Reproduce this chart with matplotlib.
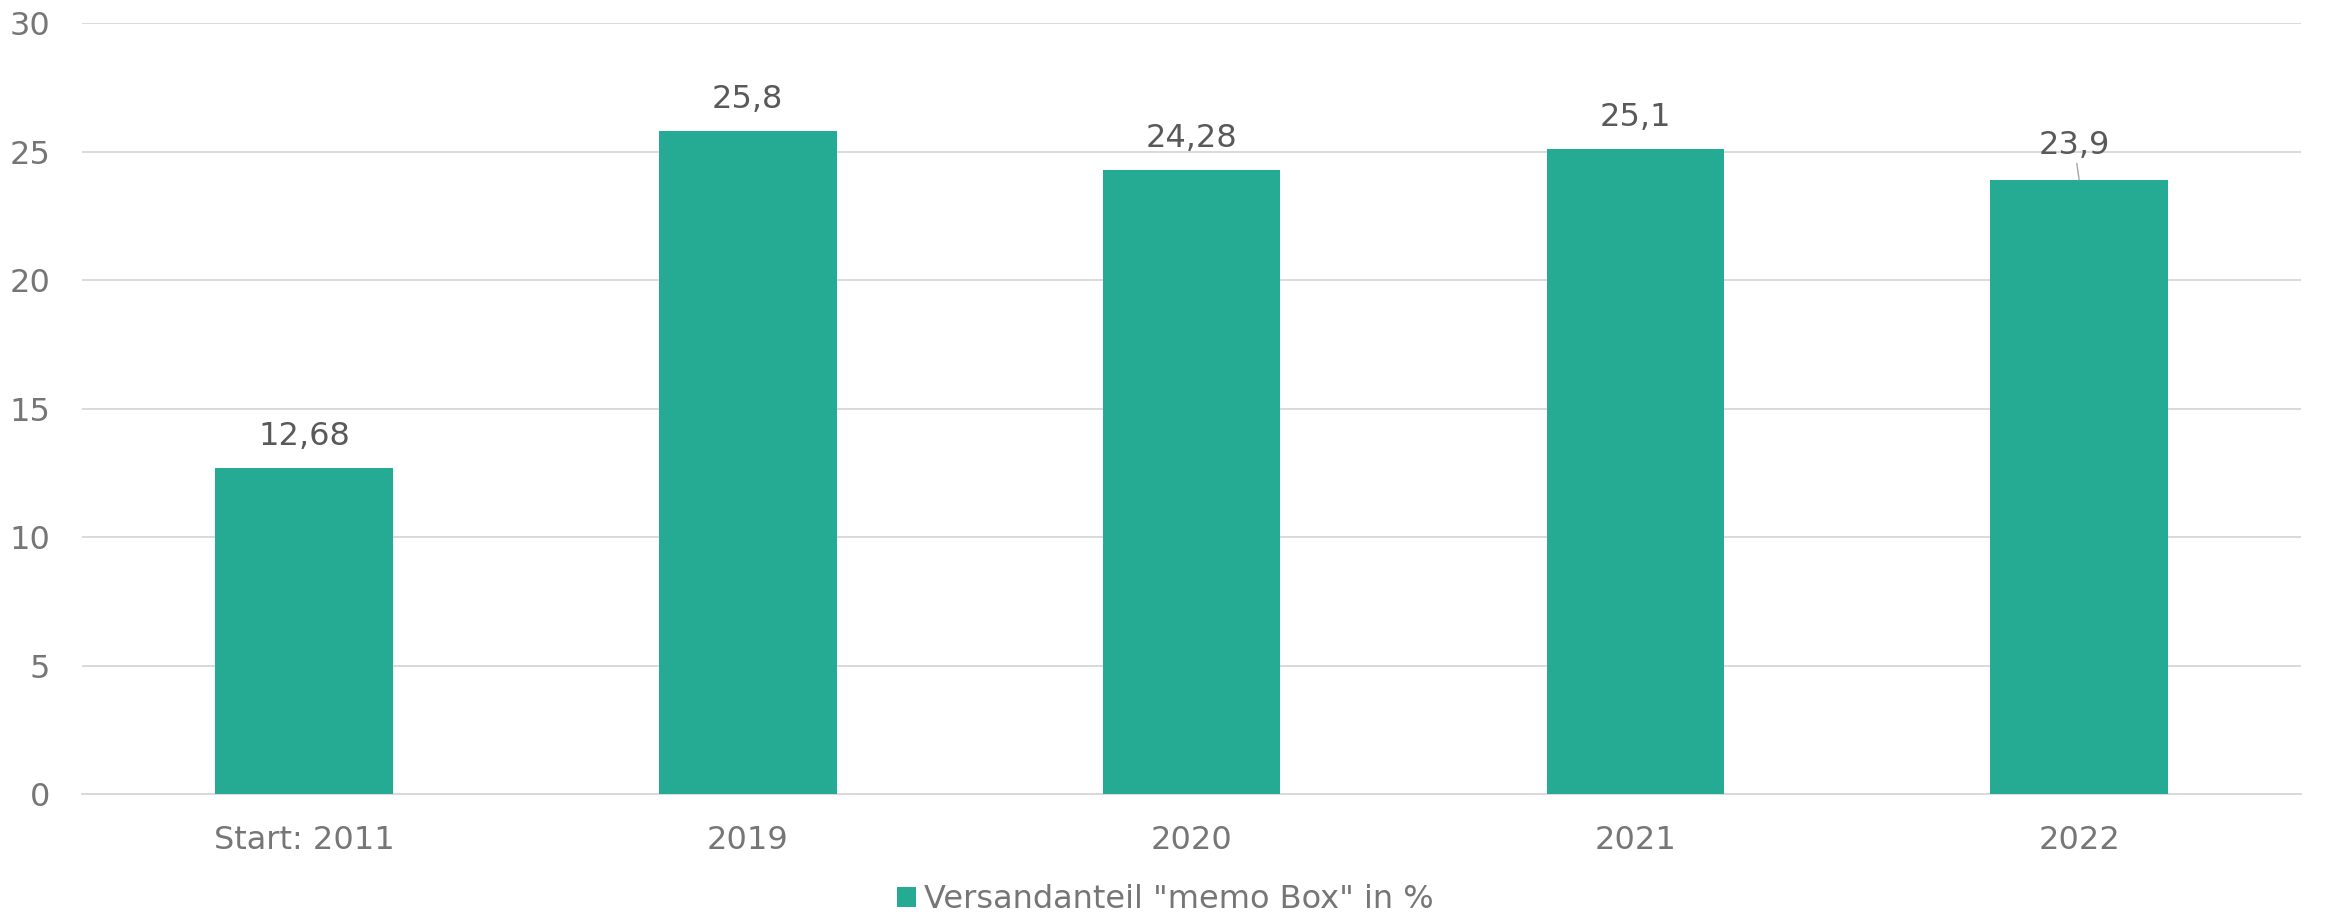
import matplotlib.pyplot as plt
import numpy as np

#data
categories = ['Start: 2011', '2019', '2020', '2021', '2022']
values = [12.68, 25.8, 24.28, 25.1, 23.9]
series_name = 'Versandanteil "memo Box" in %'

bar_color = '#25AB94'
grid_color = '#D9D9D9'
tick_color = '#767676'
label_color = '#595959'

plt.rcParams['font.family'] = ['DejaVu Sans']

fig = plt.figure(figsize=(23.25, 9.17), dpi=100)
ax = fig.add_axes([0.0353, 0.1341, 0.9544, 0.8408])

x = np.arange(len(categories))
bars = ax.bar(x, values, width=0.4, color=bar_color, label=series_name, zorder=3)

ax.set_xlim(-0.5, len(categories) - 0.5)
ax.set_ylim(0, 30)
ax.set_yticks(range(0, 31, 5))
ax.set_xticks(x)
ax.set_xticklabels(categories)

#grid and spines
ax.yaxis.grid(True, color=grid_color, linewidth=1.4, zorder=0)
ax.set_axisbelow(True)
for side in ['top', 'right', 'left']:
    ax.spines[side].set_visible(False)
ax.spines['bottom'].set_color(grid_color)
ax.spines['bottom'].set_linewidth(1.4)

ax.tick_params(axis='both', length=0, labelsize=23, colors=tick_color)
ax.tick_params(axis='y', pad=23)
ax.tick_params(axis='x', pad=22)

#value labels
for i, v in enumerate(values):
    txt = ('%g' % v).replace('.', ',')
    if i == len(values) - 1:
        ax.annotate(txt, xy=(x[i], v), xytext=(-3.6, 25), textcoords='offset points',
                    ha='center', va='center', fontsize=23, color=label_color,
                    arrowprops=dict(arrowstyle='-', color='#A6A6A6', lw=1,
                                    shrinkA=16, shrinkB=0))
    else:
        ax.annotate(txt, xy=(x[i], v), xytext=(0, 23), textcoords='offset points',
                    ha='center', va='center', fontsize=23, color=label_color)

#legend
leg = fig.legend(loc='center left', bbox_to_anchor=(0.386, 0.019), frameon=False,
                 fontsize=23, handlelength=0.58, handleheight=0.58, handletextpad=0.25,
                 borderaxespad=0, borderpad=0)
for t in leg.get_texts():
    t.set_color(tick_color)

fig.savefig('out.png', dpi=100)
